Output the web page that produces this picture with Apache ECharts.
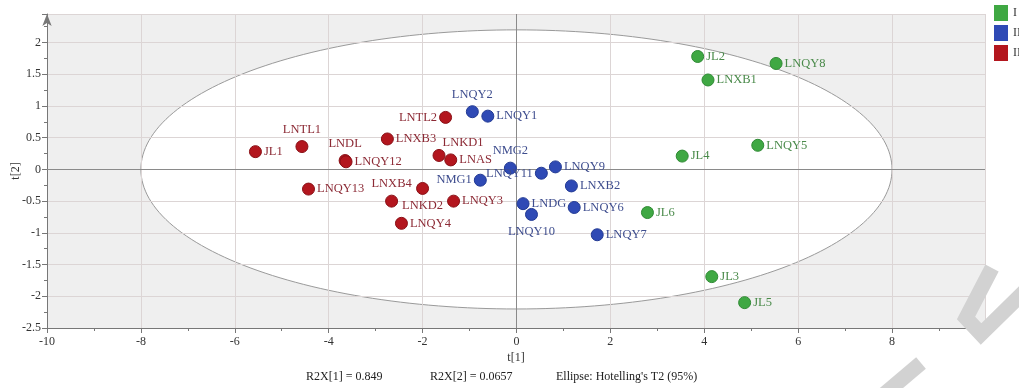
<!DOCTYPE html>
<html><head><meta charset="utf-8">
<script src="https://cdn.jsdelivr.net/npm/echarts@6/dist/echarts.min.js"></script>
<style>html,body{margin:0;padding:0;background:#fff}#c{width:1019px;height:388px}</style>
</head><body><div id="c"></div>
<script>
// ---- data ----
const groupNames = ['I', 'II', 'III'];
const g1Names = ['JL2', 'LNQY8', 'LNXB1', 'JL4', 'LNQY5', 'JL6', 'JL3', 'JL5'];
const g1X = [3.86, 5.53, 4.08, 3.53, 5.14, 2.79, 4.16, 4.86];
const g1Y = [1.78, 1.67, 1.41, 0.21, 0.38, -0.68, -1.69, -2.10];
const g2Names = ['LNQY2', 'LNQY1', 'NMG2', 'LNQY11', 'LNQY9', 'NMG1', 'LNXB2', 'LNDG', 'LNQY10', 'LNQY6', 'LNQY7'];
const g2X = [-0.94, -0.61, -0.13, 0.53, 0.83, -0.77, 1.17, 0.14, 0.32, 1.23, 1.72];
const g2Y = [0.91, 0.84, 0.02, -0.06, 0.04, -0.17, -0.26, -0.54, -0.71, -0.60, -1.03];
const g3Names = ['JL1', 'LNTL1', 'LNDL', 'LNQY12', 'LNXB3', 'LNTL2', 'LNKD1', 'LNAS', 'LNQY13', 'LNXB4', 'LNKD2', 'LNQY3', 'LNQY4'];
const g3X = [-5.56, -4.57, -3.65, -3.63, -2.75, -1.51, -1.65, -1.40, -4.43, -2.66, -2.00, -1.34, -2.45];
const g3Y = [0.28, 0.36, 0.14, 0.12, 0.48, 0.82, 0.22, 0.15, -0.31, -0.50, -0.30, -0.50, -0.85];
const ellipseRadii = [8.0, 2.2];
const xTickRange = [-10, 9.98, 2];
const yTickRange = [-2.5, 2.45, 0.5];
const footnotes = ['R2X[1] = 0.849', 'R2X[2] = 0.0657', "Ellipse: Hotelling's T2 (95%)"];

// ---- styling ----
const FONT = "'Liberation Serif', 'Times New Roman', serif";
const labelPlace = {
  LNTL1: 'top', LNDL: 'top', LNTL2: 'left', LNKD1: [10, -13], LNXB4: 'top', LNKD2: 'bottom',
  LNQY2: 'top', NMG2: 'top', LNQY11: 'left', NMG1: 'left', LNQY10: 'bottom'
};
const styles = [
  { fill: '#3fa843', border: '#2f8a34', text: '#4a8a4a' },
  { fill: '#2f4ab5', border: '#223a94', text: '#3e4d8e' },
  { fill: '#b3161e', border: '#8a1016', text: '#8c2a35' }
];
function makeData(names, xs, ys) {
  return names.map((n, i) => {
    const p = labelPlace[n] || 'right';
    const item = { name: n, value: [xs[i], ys[i]] };
    item.label = { position: p, distance: (p === 'right' || p === 'left') ? 2 : 4 };
    return item;
  });
}
const groups = [[g1Names, g1X, g1Y], [g2Names, g2X, g2Y], [g3Names, g3X, g3Y]];
const scatterSeries = groups.map((g, k) => ({
  name: groupNames[k], type: 'scatter', z: 5, symbolSize: 12,
  itemStyle: { color: styles[k].fill, borderColor: styles[k].border, borderWidth: 1, opacity: 1 },
  label: { show: true, formatter: '{b}', color: styles[k].text, fontFamily: FONT, fontSize: 12.5 },
  emphasis: { disabled: true },
  data: makeData(g[0], g[1], g[2])
}));

const chart = echarts.init(document.getElementById('c'), null, { renderer: 'canvas' });
const axisCol = '#777';
chart.setOption({
  animation: false,
  backgroundColor: '#fff',
  grid: {
    left: 47, right: 34, top: 14, bottom: 60, show: true, backgroundColor: '#efefef', borderWidth: 0,
    containLabel: false, outerBoundsMode: 'none'
  },
  legend: {
    data: groupNames, orient: 'vertical', left: 994, top: 5, padding: 0, itemWidth: 14, itemHeight: 16, itemGap: 4,
    icon: 'rect', textStyle: { fontFamily: FONT, fontSize: 12, color: '#333' }, itemStyle: { borderWidth: 0 }
  },
  xAxis: {
    type: 'value', min: xTickRange[0], max: xTickRange[1], interval: xTickRange[2], z: 3,
    name: 't[1]', nameLocation: 'middle', nameGap: 24, nameMoveOverlap: false,
    nameTextStyle: { fontFamily: FONT, fontSize: 12, color: '#333' },
    axisLine: { show: true, onZero: false, symbol: ['none', 'arrow'], symbolSize: [7, 12], lineStyle: { color: axisCol } },
    axisTick: { show: true, length: 5, lineStyle: { color: axisCol } },
    minorTick: { show: true, splitNumber: 2, length: 3, lineStyle: { color: axisCol } },
    splitLine: { show: true, lineStyle: { color: '#dcd5d5' } },
    axisLabel: { fontFamily: FONT, fontSize: 12, color: '#333', margin: 8, showMaxLabel: false }
  },
  yAxis: {
    type: 'value', min: yTickRange[0], max: yTickRange[1], interval: yTickRange[2], z: 3,
    name: 't[2]', nameLocation: 'middle', nameGap: 25, nameMoveOverlap: false,
    nameTextStyle: { fontFamily: FONT, fontSize: 12, color: '#333' },
    axisLine: { show: true, onZero: false, symbol: ['none', 'arrow'], symbolSize: [7, 12], lineStyle: { color: axisCol } },
    axisTick: { show: true, length: 5, lineStyle: { color: axisCol } },
    minorTick: { show: true, splitNumber: 2, length: 3, lineStyle: { color: axisCol } },
    splitLine: { show: true, lineStyle: { color: '#dcd5d5' } },
    axisLabel: { fontFamily: FONT, fontSize: 12, color: '#333', margin: 6, showMaxLabel: false }
  },
  series: [
    {
      type: 'custom', z: 1, silent: true, data: [[0, 0]],
      renderItem: function (params, api) {
        const c = api.coord([0, 0]);
        const r = api.coord([ellipseRadii[0], ellipseRadii[1]]);
        const rx = r[0] - c[0], ry = c[1] - r[1];
        const pts = [];
        for (let i = 0; i < 240; i++) {
          const t = i / 240 * Math.PI * 2;
          pts.push([c[0] + rx * Math.cos(t), c[1] + ry * Math.sin(t)]);
        }
        return { type: 'polygon', shape: { points: pts }, style: { fill: '#ffffff', stroke: '#9a9a9a', lineWidth: 1 } };
      }
    },
    {
      type: 'scatter', z: 4, data: [], silent: true,
      markLine: {
        silent: true, symbol: 'none', label: { show: false }, animation: false,
        lineStyle: { color: '#8a8a8a', type: 'solid', width: 1 },
        data: [{ xAxis: 0 }, { yAxis: 0 }]
      }
    }
  ].concat(scatterSeries),
  graphic: [
    { type: 'text', left: 306, top: 371, style: { text: footnotes[0], font: '12px ' + FONT, fill: '#222' } },
    { type: 'text', left: 430, top: 371, style: { text: footnotes[1], font: '12px ' + FONT, fill: '#222' } },
    { type: 'text', left: 556, top: 371, style: { text: footnotes[2], font: '12px ' + FONT, fill: '#222' } },
    { type: 'polyline', z: 100, silent: true, shape: { points: [[882, 396], [921, 363]] }, style: { stroke: '#d2d2d2', lineWidth: 15, fill: null } },
    { type: 'polyline', z: 100, silent: true, shape: { points: [[992, 268], [966, 318], [981, 334], [1030, 286]] }, style: { stroke: '#d2d2d2', lineWidth: 15, fill: null, lineJoin: 'miter' } }
  ]
});
</script></body></html>
